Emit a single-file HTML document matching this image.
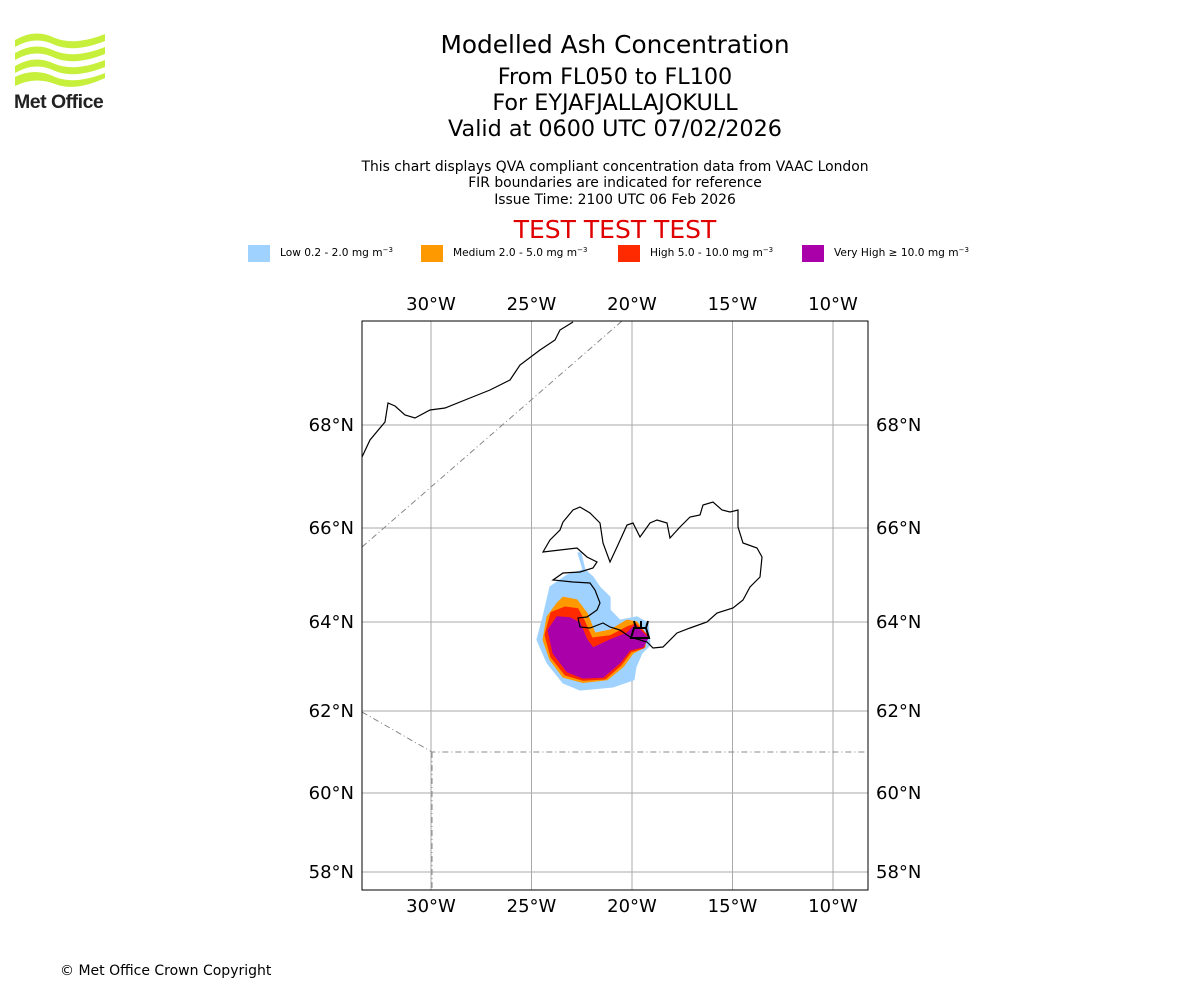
<!DOCTYPE html>
<html><head><meta charset="utf-8"><style>
body{margin:0;background:#fff;width:1200px;height:1000px;overflow:hidden;font-family:"DejaVu Sans","Liberation Sans",sans-serif}
</style></head><body>
<svg width="1200" height="1000" viewBox="0 0 1200 1000" font-family="DejaVu Sans, Liberation Sans, sans-serif">
<g>
<path d="M15 40 Q35 28 55 38 Q75 46 105 34 L105 41 Q75 53 55 45 Q35 35 15 47Z" fill="#c6f03c"/>
<path d="M15 53 Q35 41 55 51 Q75 59 105 47 L105 54 Q75 66 55 58 Q35 48 15 60Z" fill="#c6f03c"/>
<path d="M15 66 Q35 54 55 64 Q75 72 105 60 L105 67 Q75 79 55 71 Q35 61 15 73Z" fill="#c6f03c"/>
<path d="M15 77 Q35 67 55 77 Q75 85 105 73 L105 78 Q75 92 55 84 Q35 76 15 86Z" fill="#c6f03c"/>
<text x="14" y="108" font-size="19.5" font-weight="bold" fill="#222" font-family="Liberation Sans, sans-serif" letter-spacing="-0.5">Met Office</text>
</g>
<g text-anchor="middle" fill="#000">
<text x="615" y="53" font-size="24.8">Modelled Ash Concentration</text>
<text x="615" y="84" font-size="22.3">From FL050 to FL100</text>
<text x="615" y="110" font-size="22.3">For EYJAFJALLAJOKULL</text>
<text x="615" y="136" font-size="22.3">Valid at 0600 UTC 07/02/2026</text>
<text x="615" y="171" font-size="13.9">This chart displays QVA compliant concentration data from VAAC London</text>
<text x="615" y="187" font-size="13.9">FIR boundaries are indicated for reference</text>
<text x="615" y="204" font-size="13.9">Issue Time: 2100 UTC 06 Feb 2026</text>
<text x="615" y="238" font-size="25" fill="#e00000">TEST TEST TEST</text>
</g>
<g font-size="10.6">
<rect x="248" y="245" width="22" height="17" fill="#a0d2ff"/>
<text x="280" y="256">Low 0.2 - 2.0 mg m<tspan dy="-4" font-size="7">−3</tspan></text>
<rect x="421" y="245" width="22" height="17" fill="#ff9900"/>
<text x="453" y="256">Medium 2.0 - 5.0 mg m<tspan dy="-4" font-size="7">−3</tspan></text>
<rect x="618" y="245" width="22" height="17" fill="#ff2a00"/>
<text x="650" y="256">High 5.0 - 10.0 mg m<tspan dy="-4" font-size="7">−3</tspan></text>
<rect x="802" y="245" width="22" height="17" fill="#aa00aa"/>
<text x="834" y="256">Very High ≥ 10.0 mg m<tspan dy="-4" font-size="7">−3</tspan></text>
</g>
<defs><clipPath id="mapclip"><rect x="362" y="321" width="506" height="569"/></clipPath></defs>
<g id="map" clip-path="url(#mapclip)"></g>
<g id="axes"></g>
<rect x="362" y="321" width="506" height="569" fill="none" stroke="#000" stroke-width="1"/>
<text x="60" y="975" font-size="14">© Met Office Crown Copyright</text>
</svg>
<script>
const lonTicks=[-30,-25,-20,-15,-10];
const latTicks=[58,60,62,64,66,68];
const latTickY=[872,793,711,622,528,425];
const veryLowLon=[-22.69,-22.44,-23.23,-24.08,-24.43,-24.73,-24.23,-23.43,-22.59,-20.95,-19.90,-19.80,-19.50,-19.10,-19.20,-19.75,-20.60,-21.09,-21.09,-21.59,-21.94,-22.34,-22.54];
const veryLowLat=[65.47,65.11,65.00,64.75,64.11,63.60,63.08,62.63,62.47,62.54,62.70,62.99,63.30,63.48,63.98,64.11,64.04,64.26,64.53,64.74,64.96,65.11,65.47];
const mediumLon=[-23.43,-22.74,-22.24,-21.84,-21.09,-20.25,-19.75,-19.35,-19.35,-19.95,-20.45,-21.24,-22.44,-23.43,-24.08,-24.43,-24.23,-23.73];
const mediumLat=[64.53,64.47,64.19,63.75,63.82,64.04,64.00,63.75,63.44,63.30,62.99,62.70,62.64,62.76,63.15,63.60,64.11,64.40];
const highLon=[-23.33,-22.69,-22.39,-21.99,-21.09,-20.25,-19.80,-19.25,-19.40,-20.05,-20.55,-21.34,-22.44,-23.33,-24.03,-24.33,-24.03];
const highLat=[64.32,64.28,64.04,63.64,63.69,63.89,63.96,63.71,63.42,63.33,63.03,62.72,62.69,62.81,63.21,63.71,64.20];
const vhLon=[-23.73,-23.08,-22.59,-22.24,-21.94,-21.09,-20.25,-19.85,-19.60,-19.20,-19.45,-20.10,-20.60,-21.44,-22.44,-23.23,-23.93,-24.18];
const vhLat=[64.11,64.09,63.98,63.60,63.42,63.60,63.75,63.93,63.82,63.64,63.44,63.37,63.08,62.76,62.74,62.88,63.30,63.82];
const NS='http://www.w3.org/2000/svg';
function xOf(lon){return 632+(lon+20)*20.1;}
function yOf(lat){
  for(let i=0;i<latTicks.length-1;i++){
    if(lat<=latTicks[i+1]||i==latTicks.length-2){
      const t=(lat-latTicks[i])/(latTicks[i+1]-latTicks[i]);
      return latTickY[i]+t*(latTickY[i+1]-latTickY[i]);
    }
  }
}
const map=document.getElementById('map'),axes=document.getElementById('axes');
function mk(tag,attrs,parent){const e=document.createElementNS(NS,tag);for(const k in attrs)e.setAttribute(k,attrs[k]);parent.appendChild(e);return e;}
lonTicks.forEach(l=>{
  const x=xOf(l);
  const g=mk('line',{x1:x,x2:x,y1:321,y2:890,stroke:'#aaa','stroke-width':1},map);
  
  
  [310,912].forEach(y=>{
    const t=mk('text',{x:x,y:y,'text-anchor':'middle','font-size':18},axes);
    t.textContent=Math.abs(l)+'°W';
    
    
  });
});
latTicks.forEach(l=>{
  const y=yOf(l);
  const g=mk('line',{x1:362,x2:868,y1:y,y2:y,stroke:'#aaa','stroke-width':1},map);
  
  
  const a=mk('text',{x:354,y:y+6,'text-anchor':'end','font-size':18},axes);a.textContent=l+'°N';
  
  
  const b=mk('text',{x:876,y:y+6,'font-size':18},axes);b.textContent=l+'°N';
  
  
});
const fir=mk('path',{d:'M362 547 L622 321 M362 712 L432 752 L868 752 M432 752 L432 890',fill:'none',stroke:'#888','stroke-width':1,'stroke-dasharray':'6,3,1,3'},map);


function poly(lons,lats,color,name){
  const pts=lons.map((l,i)=>xOf(l).toFixed(1)+','+yOf(lats[i]).toFixed(1)).join(' ');
  const p=mk('polygon',{points:pts,fill:color,stroke:color,'stroke-width':1,'stroke-linejoin':'round'},map);
  
  
}
poly(veryLowLon,veryLowLat,'#a0d2ff','ash-low');
poly(mediumLon,mediumLat,'#ff9900','ash-medium');
poly(highLon,highLat,'#ff2a00','ash-high');
poly(vhLon,vhLat,'#aa00aa','ash-very-high');
const ice=mk('path',{d:'M543 552 L550 540 L560 530 L563 522 L573 510 L580 507 L590 513 L600 523 L603 543 L610 562 L617 547 L627 525 L633 523 L640 537 L650 523 L657 520 L667 523 L670 538 L680 527 L690 517 L700 515 L703 505 L713 502 L722 510 L730 512 L738 510 L738 527 L743 543 L757 548 L762 557 L760 577 L750 587 L743 600 L733 608 L717 613 L707 622 L690 628 L677 633 L663 647 L653 648 L647 642 L630 637 L620 630 L610 627 L603 623 L590 628 L580 627 L578 618 L587 617 L597 610 L600 603 L595 590 L590 583 L573 582 L553 580 L563 573 L580 572 L593 568 L597 562 L587 557 L577 548 L560 550 Z',fill:'none',stroke:'#000','stroke-width':1.2},map);


const gr=mk('path',{d:'M362 457 L370 440 L385 422 L388 403 L395 406 L405 415 L415 418 L430 410 L445 408 L470 398 L490 390 L510 380 L520 365 L540 350 L555 340 L560 330 L573 322',fill:'none',stroke:'#000','stroke-width':1.2},map);


const v=mk('path',{d:'M634 628 L646 628 L649 638 L631 638 Z M636 628 L634 621 M641 628 L641 621 M646 628 L648 621 M630 638 L637 638 M643 638 L650 638',fill:'none',stroke:'#000','stroke-width':2},map);


</script>
</body></html>
